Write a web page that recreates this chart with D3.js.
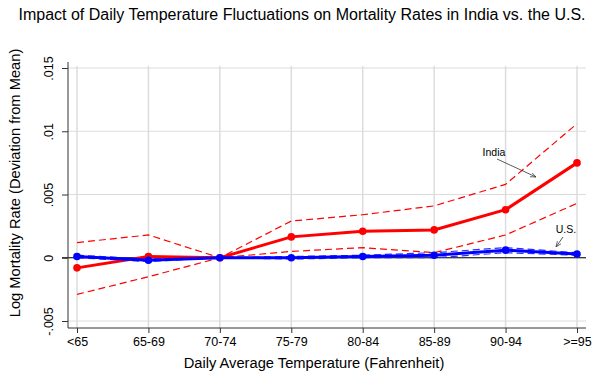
<!DOCTYPE html>
<html><head><meta charset="utf-8">
<script src="https://cdn.jsdelivr.net/npm/d3@7"></script>
<style>body{margin:0;background:#fff}svg{display:block}text{font-family:"Liberation Sans",Arial,sans-serif}</style>
</head><body><svg id="c" width="605" height="378"></svg>
<script>
const categories = ["<65","65-69","70-74","75-79","80-84","85-89","90-94",">=95"];
const indiaEst   = [-0.0008, 0.0001, 0, 0.00165, 0.0021, 0.0022, 0.0038, 0.0075];
const indiaUpper = [0.0012, 0.0018, 0, 0.0029, 0.0034, 0.0041, 0.0058, 0.0106];
const indiaLower = [-0.0029, -0.0015, 0, 0.0005, 0.0008, 0.0004, 0.0018, 0.0043];
const usEst      = [0.0001, -0.0002, 0, 0.0, 0.0001, 0.0002, 0.0006, 0.0003];
const usUpper    = [0.0002, -0.0001, 0, 0.0001, 0.0002, 0.0004, 0.0008, 0.0004];
const usLower    = [0.0000, -0.0003, 0, -0.0001, 0.0000, 0.0000, 0.0004, 0.0002];
const yTicks = [-0.005, 0, 0.005, 0.01, 0.015];
const yTickLabels = ["-.005","0",".005",".01",".015"];

const svg = d3.select("#c");
const x = d3.scalePoint().domain(categories).range([77, 577]);
const y = d3.scaleLinear().domain([-0.005, 0.015]).range([321, 68]);
const xL = 68, xR = 586, yB = 328, yT = 62;

// gridlines
svg.append("g").selectAll("line").data(yTicks).join("line")
  .attr("x1", xL).attr("x2", xR).attr("y1", d=>y(d)).attr("y2", d=>y(d))
  .attr("stroke", "#dcdcdc").attr("stroke-width", 1);
svg.append("g").selectAll("line").data(categories).join("line")
  .attr("x1", d=>x(d)).attr("x2", d=>x(d)).attr("y1", 66).attr("y2", yB)
  .attr("stroke", "#dcdcdc").attr("stroke-width", 1.5);

// zero line
svg.append("line").attr("x1", 62).attr("x2", xR).attr("y1", y(0)).attr("y2", y(0))
  .attr("stroke", "#000").attr("stroke-width", 1.2);

// axes
const yAxis = d3.axisLeft(y).tickValues(yTicks).tickFormat((d,i)=>yTickLabels[i]).tickSize(6).tickSizeOuter(0);
const gy = svg.append("g").attr("transform", `translate(${xL},0)`).call(yAxis);
gy.select(".domain").attr("d", `M0,${yT}V${yB}`).attr("stroke", "#333");
gy.selectAll(".tick line").attr("stroke", "#333");
gy.selectAll(".tick text").attr("transform", "rotate(-90)").attr("x", 0).attr("y", -15)
  .attr("dy", "0").attr("text-anchor", "middle").attr("font-size", 12.5).attr("fill", "#000");

const xAxis = d3.axisBottom(x).tickSize(5).tickSizeOuter(0);
const gx = svg.append("g").attr("transform", `translate(0,${yB})`).call(xAxis);
gx.select(".domain").attr("d", `M${xL},0H${xR}`).attr("stroke", "#333");
gx.selectAll(".tick line").attr("stroke", "#333");
gx.selectAll(".tick text").attr("font-size", 12.5).attr("fill", "#000").attr("y", 9);

// lines
const line = d3.line().x((d,i)=>x(categories[i])).y(d=>y(d));
function dashed(data, color){
  svg.append("path").datum(data).attr("d", line).attr("fill","none")
    .attr("stroke", color).attr("stroke-width", 1.2).attr("stroke-dasharray", "7,4");
}
dashed(indiaUpper, "#ff0000");
dashed(indiaLower, "#ff0000");
svg.append("path").datum(indiaEst).attr("d", line).attr("fill","none")
  .attr("stroke", "#ff0000").attr("stroke-width", 3);
svg.append("g").selectAll("circle").data(indiaEst).join("circle")
  .attr("cx", (d,i)=>x(categories[i])).attr("cy", d=>y(d)).attr("r", 3.8).attr("fill", "#ff0000");

dashed(usUpper, "#2a2aff");
dashed(usLower, "#2a2aff");
svg.append("path").datum(usEst).attr("d", line).attr("fill","none")
  .attr("stroke", "#0000ff").attr("stroke-width", 3);
svg.append("g").selectAll("circle").data(usEst).join("circle")
  .attr("cx", (d,i)=>x(categories[i])).attr("cy", d=>y(d)).attr("r", 3.8).attr("fill", "#0000ff");

// annotations
svg.append("defs").append("marker").attr("id","ah").attr("viewBox","0 0 10 10")
  .attr("refX",10).attr("refY",5).attr("markerWidth",7).attr("markerHeight",7).attr("orient","auto")
  .append("path").attr("d","M0,1L10,5L0,9").attr("fill","none").attr("stroke","#333").attr("stroke-width",1.2);
svg.append("text").attr("x", 494).attr("y", 156).attr("text-anchor","middle").attr("font-size", 10.5).text("India");
svg.append("line").attr("x1", 497).attr("y1", 159).attr("x2", 536).attr("y2", 177)
  .attr("stroke","#333").attr("stroke-width",0.8).attr("marker-end","url(#ah)");
svg.append("text").attr("x", 566).attr("y", 233).attr("text-anchor","middle").attr("font-size", 10.5).text("U.S.");
svg.append("line").attr("x1", 563).attr("y1", 237).attr("x2", 556).attr("y2", 247)
  .attr("stroke","#333").attr("stroke-width",0.8).attr("marker-end","url(#ah)");

// titles
svg.append("text").attr("x", 302).attr("y", 20).attr("text-anchor","middle").attr("font-size", 16)
  .text("Impact of Daily Temperature Fluctuations on Mortality Rates in India vs. the U.S.");
svg.append("text").attr("x", 314).attr("y", 368).attr("text-anchor","middle").attr("font-size", 14.7)
  .text("Daily Average Temperature (Fahrenheit)");
svg.append("text").attr("transform", "translate(20,183) rotate(-90)").attr("text-anchor","middle").attr("font-size", 14.7)
  .text("Log Mortality Rate (Deviation from Mean)");
</script></body></html>
